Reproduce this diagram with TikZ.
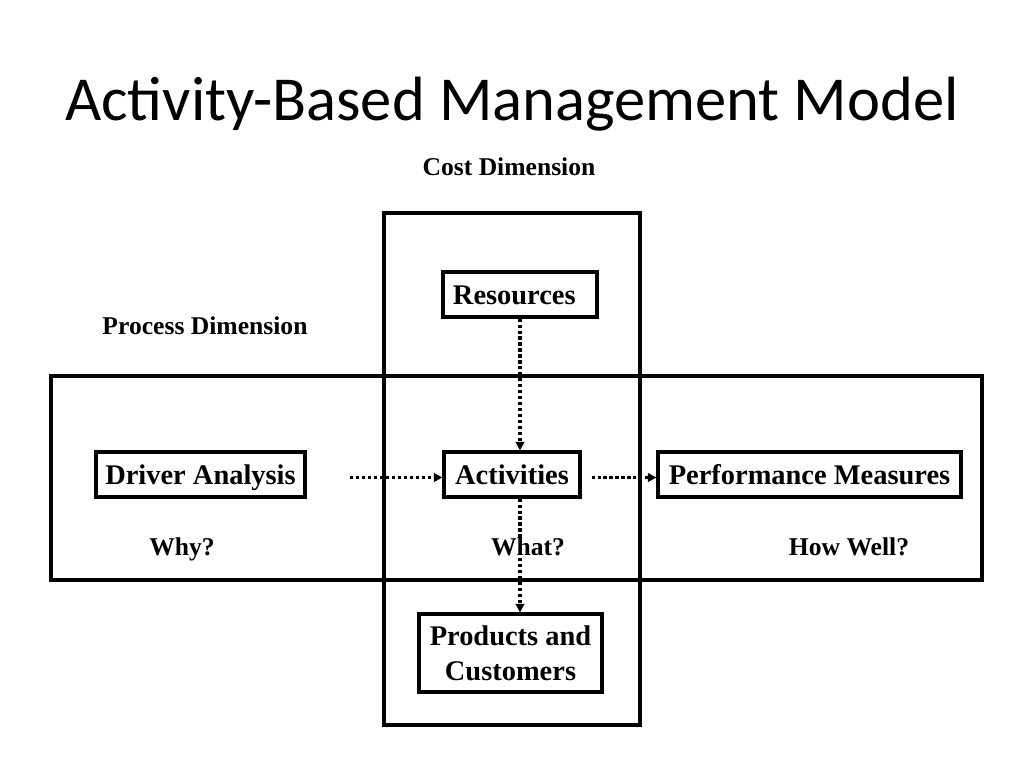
\documentclass[tikz,border=0pt]{standalone}
\usepackage{fontspec}
\setmainfont{Liberation Serif}
\newfontfamily\titlefont{Carlito}
\usetikzlibrary{arrows.meta,calc}
\begin{document}
\begin{tikzpicture}[x=0.703125pt,y=-0.703125pt,
  frame/.style={draw=black,line width=2.2pt},
  box/.style={draw=black,line width=2.2pt,fill=white,inner sep=0pt,font=\bfseries\fontsize{20}{24}\selectfont,align=center,text height=13.4pt,text depth=0pt},
  lbl/.style={font=\bfseries\fontsize{18}{22}\selectfont,inner sep=1pt,text height=12pt,text depth=0pt},
  flow/.style={line width=2.2pt,dash pattern=on 2.2pt off 2pt,-{Triangle[length=6pt,width=6pt]}}]
\useasboundingbox (0,0) rectangle (1024,768);
\node[font=\titlefont\fontsize{44}{52}\selectfont] (title) at (512,104) {Activity-Based Management Model};
\draw[frame] (384,213) rectangle (640,725);
\draw[frame] (51,376) rectangle (982,580);
\node[lbl] (cost) at (509,167) {Cost Dimension};
\node[lbl] (proc) at (205,326) {Process Dimension};
\node[box,minimum width=108.28pt,minimum height=31.64pt] (res) at (520,294.5) {Resources\hspace*{8pt}};
\node[box,minimum width=95.63pt,minimum height=31.64pt] (act) at (512,474.5) {Activities};
\node[box,minimum width=146.95pt,minimum height=31.64pt] (drv) at (200.5,474.5) {Driver Analysis};
\node[box,minimum width=213.05pt,minimum height=31.64pt] (perf) at (809.5,474.5) {Performance Measures};
\node[box,minimum width=128.67pt,minimum height=54.84pt,text height=,text depth=] (prod) at (510.5,653) {\raisebox{-2.2pt}[\height][\depth]{\begin{tabular}{@{}c@{}}Products and\\Customers\end{tabular}}};
\coordinate (dstart) at (350,477.5);
\draw[flow] (res.south) -- (res.south |- act.north);
\draw[flow] (dstart) -- (dstart -| act.west);
\draw[flow,shorten <=7pt] (act.east |- dstart) -- (dstart -| perf.west);
\draw[flow] (act.south -| res.south) -- (res.south |- prod.north);
\node[lbl] (why) at (182,547) {Why?};
\node[lbl,fill=white,inner sep=0pt] (what) at (528,547) {What?};
\node[lbl] (how) at (849,547) {How Well?};
\end{tikzpicture}
\end{document}
